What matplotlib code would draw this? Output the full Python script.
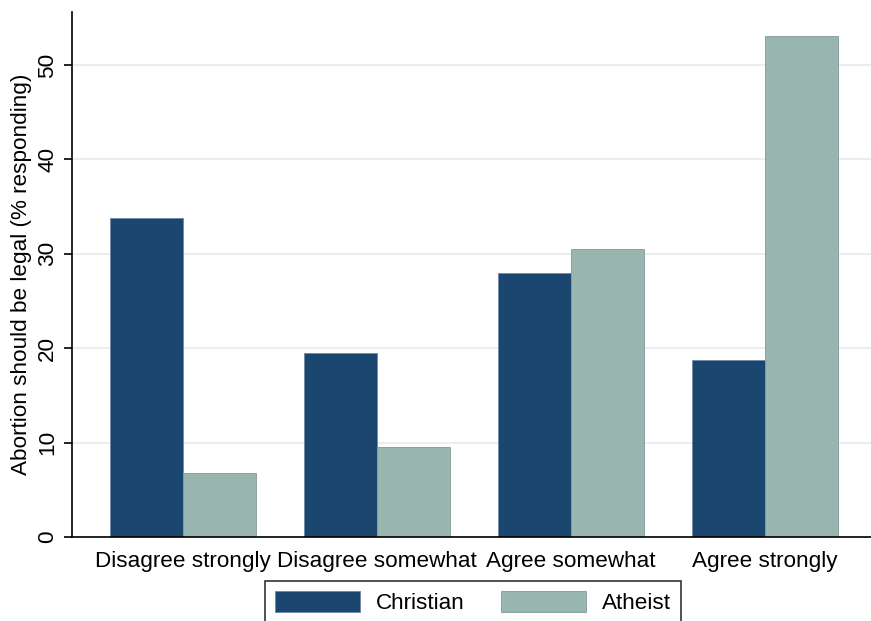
import matplotlib
matplotlib.use("Agg")
import matplotlib.pyplot as plt
import numpy as np

plt.rcParams['font.family'] = ['Liberation Sans', 'DejaVu Sans']

categories = ["Disagree strongly", "Disagree somewhat", "Agree somewhat", "Agree strongly"]
christian = [33.8, 19.5, 28.0, 18.7]
atheist = [6.8, 9.5, 30.5, 53.1]
series_names = ["Christian", "Atheist"]
yticks = [0, 10, 20, 30, 40, 50]

navy = "#1b4670"
sage = "#98b5af"
fs = 16.2

fig = plt.figure(figsize=(8.71, 6.21), dpi=100)
ax = fig.add_axes([72 / 871, 84 / 621, (871 - 72) / 871, (537 - 12) / 621])

x = np.arange(len(categories))
w = 0.374
ax.bar(x - w / 2, christian, width=w, color=navy, edgecolor="#6f8aa6",
       linewidth=0.6, label=series_names[0], zorder=3)
ax.bar(x + w / 2, atheist, width=w, color=sage, edgecolor="#7f9a97",
       linewidth=0.6, label=series_names[1], zorder=3)

ax.set_xlim(-0.572, 3.546)
ax.set_ylim(0, 55.6)
ax.set_yticks(yticks)
ax.set_yticklabels([str(t) for t in yticks], rotation=90, va="center", fontsize=fs)
ax.set_xticks(x)
ax.set_xticklabels(categories, fontsize=fs)
ax.tick_params(axis="x", length=0, pad=10)
ax.tick_params(axis="y", length=6, width=1.2, pad=4, color="black")

ax.grid(axis="y", color="#e6eff2", linewidth=1.4, zorder=0)
for side in ("top", "right"):
    ax.spines[side].set_visible(False)
for side in ("left", "bottom"):
    ax.spines[side].set_linewidth(1.2)
    ax.spines[side].set_zorder(4)

ax.set_ylabel("Abortion should be legal (% responding)", fontsize=fs, labelpad=4)

leg = fig.legend(loc="upper center", bbox_to_anchor=(473 / 871, 40 / 621), ncol=2,
                 fontsize=fs, frameon=True, fancybox=False, edgecolor="black",
                 handlelength=3.8, handleheight=1.05, handletextpad=0.7,
                 columnspacing=1.6, borderpad=0.45, borderaxespad=0)
leg.get_frame().set_linewidth(1.2)

fig.savefig("out.png", dpi=100)
